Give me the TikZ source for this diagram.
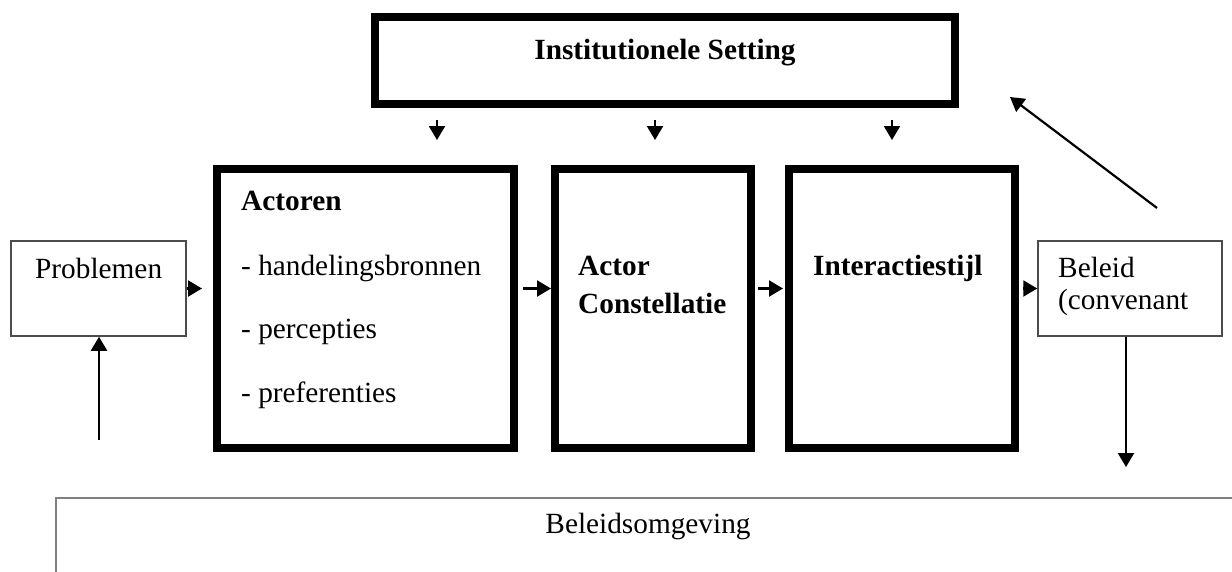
\documentclass[tikz,border=0pt]{standalone}
\usepackage{fontspec}
\setmainfont{Liberation Serif}
\usetikzlibrary{arrows.meta,positioning}

\begin{document}
\begin{tikzpicture}[
          x=1pt, y=-1pt,
          txt/.style={font=\fontsize{29.3}{35}\selectfont, inner sep=0pt, anchor=base west},
          hdr/.style={txt, font=\fontsize{29.3}{35}\selectfont\bfseries},
          bigbox/.style={draw, line width=8pt, inner sep=0pt},
          smallbox/.style={draw=black!70, line width=1.5pt, inner sep=0pt},
          arr/.style={line width=2.2pt, -{Triangle[length=14pt,width=16pt]}}
      ]
        \useasboundingbox (0,0) rectangle (1232,571);
        \clip (0,0) rectangle (1232,571);
        % boxes
        \node[bigbox, minimum width=580pt, minimum height=87pt] (inst) at (665,60.5) {};
        \node[bigbox, minimum width=297pt, minimum height=279pt] (act) at (365.5,308.5) {};
        \node[bigbox, minimum width=196pt, minimum height=279pt] (cons) at (653,308.5) {};
        \node[bigbox, minimum width=226pt, minimum height=279pt] (inter) at (902,308.5) {};
        \node[smallbox, minimum width=175pt, minimum height=95pt] (prob) at (98.5,288.5) {};
        \node[smallbox, minimum width=184pt, minimum height=95pt] (bel) at (1130,288.5) {};
        \node[smallbox, draw=black!50, minimum width=1245pt, minimum height=153pt,
              anchor=north west] (omg) at (55,497) {};
        % texts
        \node[hdr, anchor=base] (tinst) at (665,59) {Institutionele Setting};
        \node[hdr] (tact) at (241,210) {Actoren};
        \node[txt] (tact1) at (241,275) {- handelingsbronnen};
        \node[txt] (tact2) at (241,338) {- percepties};
        \node[txt] (tact3) at (241,402) {- preferenties};
        \node[hdr] (tcons1) at (578,275) {Actor};
        \node[hdr] (tcons2) at (578,313) {Constellatie};
        \node[hdr] (tinter) at (813,275) {Interactiestijl};
        \node[txt] (tprob) at (35,278) {Problemen};
        \node[txt] (tbel1) at (1058,277) {Beleid};
        \node[txt] (tbel2) at (1058,309) {(convenant};
        \node[txt, anchor=base] (tomg) at (648,533) {Beleidsomgeving};
        % arrows
        \foreach \x [count=\i] in {437,655,892} {
          \coordinate (top\i) at (\x,120);
          \coordinate (bot\i) at (\x,140);
          \draw[arr] (top\i) -- (bot\i);
        }
        \draw[arr, shorten >=11pt] (prob.east) -- (prob.east -| act.west);
        \draw[arr, shorten <=5pt] (act.east |- prob.east) -- (cons.west |- prob.east);
        \draw[arr, shorten <=3pt, shorten >=2pt] (cons.east |- prob.east) -- (inter.west |- prob.east);
        \draw[arr, shorten <=4pt] (inter.east |- bel.west) -- (bel.west);
        \coordinate (probup) at (99,440);
        \draw[arr] (probup) -- (prob.south -| probup);
        \coordinate (beldown) at (1126,467);
        \draw[arr] (bel.south -| beldown) -- (beldown);
        \coordinate (fb1) at (1157,208);
        \coordinate (fb2) at (1010,97);
        \draw[arr] (fb1) -- (fb2);
      \end{tikzpicture}
\end{document}
